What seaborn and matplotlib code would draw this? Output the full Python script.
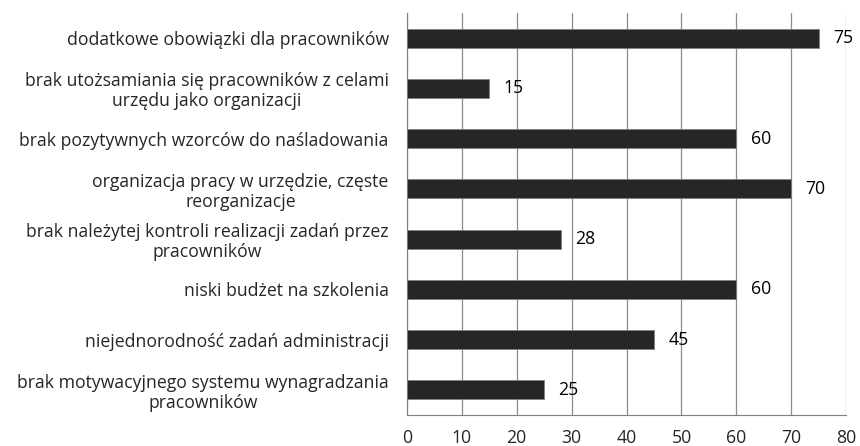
import pandas as pd
import matplotlib.pyplot as plt
import seaborn as sns

# categories and counts
categories = [
    'dodatkowe obowiązki dla pracowników',
    'brak utożsamiania się pracowników z celami\nurzędu jako organizacji',
    'brak pozytywnych wzorców do naśladowania',
    'organizacja pracy w urzędzie, częste\nreorganizacje',
    'brak należytej kontroli realizacji zadań przez\npracowników',
    'niski budżet na szkolenia',
    'niejednorodność zadań administracji',
    'brak motywacyjnego systemu wynagradzania\npracowników',
]
values = [75, 15, 60, 70, 28, 60, 45, 25]
x_ticks = [0, 10, 20, 30, 40, 50, 60, 70, 80]

df = pd.DataFrame({'cat': categories, 'val': values})

sns.set_style('white')
plt.rcParams['font.family'] = ['Open Sans', 'DejaVu Sans']
fs = 12.7

fig = plt.figure(figsize=(8.6, 4.46), dpi=100)
ax = fig.add_axes([0.473, 0.0695, 0.511, 0.9015])

sns.barplot(data=df, x='val', y='cat', orient='h', color='#262626',
            width=0.38, edgecolor='#7f7f7f', linewidth=0.6, ax=ax, zorder=3)

for i, v in enumerate(values):
    ax.text(v + 2.6, i, str(v), va='center', ha='left', fontsize=fs, color='black')

ax.set_xlim(0, 80)
ax.set_ylim(len(categories) - 0.5, -0.5)
ax.set_xticks(x_ticks)
ax.set_xticklabels([str(t) for t in x_ticks], fontsize=fs)
ax.set_yticks(range(len(categories)))
ax.set_yticklabels(categories, fontsize=fs, multialignment='center', linespacing=1.15)
ax.tick_params(axis='y', length=0, pad=13)
# small boundary ticks on the category axis
ax.set_yticks([i - 0.5 for i in range(len(categories) + 1)], minor=True)
ax.tick_params(axis='y', which='minor', length=5, color='#7f7f7f', width=0.8)
ax.tick_params(axis='x', length=5, color='#7f7f7f', width=0.8, pad=5)

ax.xaxis.grid(True, color='#8c8c8c', linewidth=0.9, zorder=0)
ax.yaxis.grid(False)
for s in ['top', 'right']:
    ax.spines[s].set_visible(False)
ax.spines['left'].set_color('#7f7f7f')
ax.spines['bottom'].set_color('#7f7f7f')
ax.set_xlabel('')
ax.set_ylabel('')

fig.savefig('out.png', dpi=100)
